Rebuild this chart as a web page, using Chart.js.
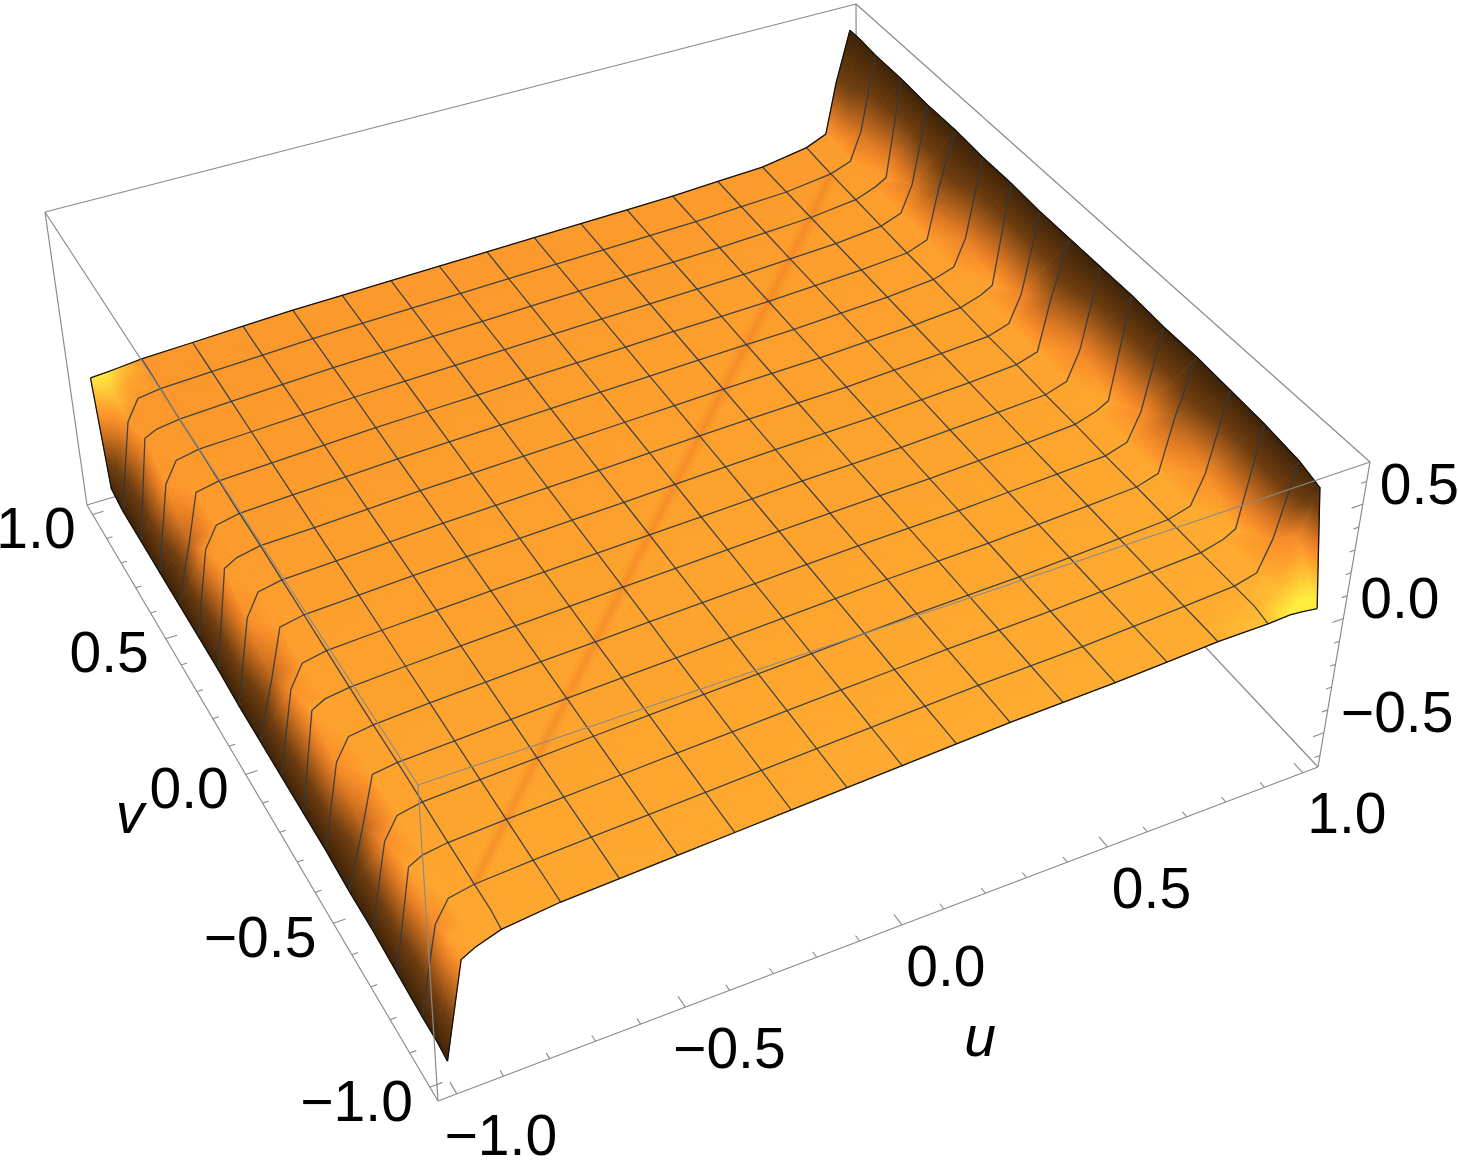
<!DOCTYPE html>
<html lang="en">
<head>
    <meta charset="UTF-8">
    <title>Surface plot</title>
    <script src="https://cdn.jsdelivr.net/npm/chart.js"></script>
    <style>
        html, body { margin: 0; padding: 0; background: #fff; }
        canvas { display: block; }
    </style>
</head>
<body>
    <canvas id="surface" width="1458" height="1164"></canvas>
    <script>
        // Sample positions of the surface
        const uValues = [-1, -0.96, -0.93, -0.875, -0.75, -0.625, -0.5, -0.375, -0.25, -0.125, 0, 0.125, 0.25, 0.375, 0.5, 0.625, 0.75, 0.875, 0.93, 0.96, 1];
        const vValues = [-1, -0.95, -0.875, -0.75, -0.625, -0.5, -0.375, -0.25, -0.125, 0, 0.125, 0.25, 0.375, 0.5, 0.625, 0.75, 0.875, 0.95, 1];

        // Heights, one row per v value
        const zRows = [
            [-0.57, -0.17, -0.14, -0.105, -0.080, -0.070, -0.060, -0.050, -0.040, -0.030, -0.020, -0.010, 0.000, 0.005, 0.010, 0.020, 0.030, 0.030, 0.035, 0.030, 0.02],
            [-0.56, -0.15, -0.11, -0.090, -0.078, -0.069, -0.059, -0.049, -0.039, -0.029, -0.019, -0.009, 0.001, 0.006, 0.011, 0.021, 0.031, 0.045, 0.075, 0.30, 0.49],
            [-0.56, -0.20, -0.11, -0.090, -0.076, -0.066, -0.056, -0.047, -0.037, -0.027, -0.018, -0.008, 0.002, 0.007, 0.012, 0.022, 0.032, 0.045, 0.07, 0.20, 0.52],
            [-0.55, -0.13, -0.10, -0.085, -0.073, -0.063, -0.053, -0.043, -0.034, -0.024, -0.015, -0.006, 0.004, 0.009, 0.014, 0.024, 0.034, 0.045, 0.07, 0.10, 0.54],
            [-0.54, -0.19, -0.10, -0.080, -0.069, -0.059, -0.049, -0.040, -0.031, -0.022, -0.013, -0.003, 0.006, 0.011, 0.016, 0.026, 0.036, 0.047, 0.075, 0.20, 0.55],
            [-0.54, -0.30, -0.09, -0.075, -0.065, -0.055, -0.045, -0.036, -0.028, -0.019, -0.010, -0.001, 0.008, 0.013, 0.018, 0.028, 0.038, 0.050, 0.08, 0.32, 0.56],
            [-0.53, -0.18, -0.09, -0.075, -0.061, -0.051, -0.041, -0.033, -0.024, -0.016, -0.008, 0.001, 0.009, 0.014, 0.019, 0.029, 0.039, 0.050, 0.08, 0.20, 0.56],
            [-0.53, -0.115, -0.085, -0.070, -0.058, -0.048, -0.038, -0.029, -0.021, -0.013, -0.005, 0.003, 0.011, 0.016, 0.021, 0.031, 0.041, 0.055, 0.085, 0.115, 0.57],
            [-0.53, -0.18, -0.085, -0.065, -0.054, -0.044, -0.034, -0.026, -0.018, -0.010, -0.003, 0.005, 0.013, 0.018, 0.023, 0.033, 0.043, 0.055, 0.085, 0.21, 0.57],
            [-0.53, -0.29, -0.08, -0.060, -0.050, -0.040, -0.030, -0.023, -0.015, -0.008, 0.000, 0.008, 0.015, 0.020, 0.025, 0.035, 0.045, 0.060, 0.09, 0.33, 0.57],
            [-0.53, -0.17, -0.075, -0.055, -0.046, -0.036, -0.026, -0.019, -0.012, -0.005, 0.003, 0.010, 0.017, 0.022, 0.027, 0.037, 0.047, 0.060, 0.09, 0.21, 0.57],
            [-0.52, -0.10, -0.07, -0.050, -0.043, -0.033, -0.023, -0.016, -0.009, -0.002, 0.005, 0.012, 0.019, 0.024, 0.029, 0.039, 0.049, 0.065, 0.095, 0.125, 0.58],
            [-0.52, -0.16, -0.07, -0.050, -0.039, -0.029, -0.019, -0.012, -0.006, 0.001, 0.008, 0.014, 0.021, 0.026, 0.031, 0.041, 0.051, 0.070, 0.10, 0.22, 0.58],
            [-0.52, -0.28, -0.065, -0.045, -0.035, -0.025, -0.015, -0.009, -0.003, 0.004, 0.010, 0.016, 0.023, 0.028, 0.033, 0.043, 0.053, 0.070, 0.105, 0.34, 0.59],
            [-0.52, -0.15, -0.06, -0.040, -0.031, -0.021, -0.011, -0.005, 0.001, 0.007, 0.013, 0.018, 0.024, 0.029, 0.034, 0.044, 0.054, 0.075, 0.11, 0.23, 0.59],
            [-0.52, -0.08, -0.055, -0.040, -0.028, -0.018, -0.008, -0.002, 0.004, 0.009, 0.015, 0.021, 0.026, 0.031, 0.036, 0.046, 0.056, 0.080, 0.115, 0.145, 0.60],
            [-0.52, -0.14, -0.05, -0.035, -0.024, -0.014, -0.004, 0.002, 0.007, 0.012, 0.018, 0.023, 0.028, 0.033, 0.038, 0.048, 0.058, 0.085, 0.12, 0.25, 0.60],
            [-0.50, -0.12, -0.07, -0.030, -0.022, -0.012, -0.002, 0.004, 0.009, 0.014, 0.019, 0.024, 0.029, 0.034, 0.039, 0.049, 0.059, 0.090, 0.13, 0.36, 0.61],
            [-0.05, -0.045, -0.04, -0.030, -0.020, -0.010, 0.000, 0.005, 0.010, 0.015, 0.020, 0.025, 0.030, 0.035, 0.040, 0.050, 0.060, 0.095, 0.135, 0.37, 0.61]
        ];

        // Axis ticks
        const uvMajorTicks = [-1, -0.5, 0, 0.5, 1];
        const uvMinorTicks = [-0.9, -0.8, -0.7, -0.6, -0.4, -0.3, -0.2, -0.1, 0.1, 0.2, 0.3, 0.4, 0.6, 0.7, 0.8, 0.9];
        const zMajorTicks = [-0.5, 0, 0.5];
        const zMinorTicks = [-0.6, -0.4, -0.3, -0.2, -0.1, 0.1, 0.2, 0.3, 0.4, 0.6];

        // Plot box
        const uvLimit = 1.04;
        const zMin = -0.65, zMax = 0.685;
        const floorCorners = [[438, 1101], [1318, 767], [857, 276], [87, 505]];
        const roofCorners = [[418, 785], [1370, 462], [856, 4], [45, 212]];

        const GREY = '#8a8a8a';
        const MESH = 'rgba(48,58,66,0.9)';

        function quadMap(q) {
            const [[x0, y0], [x1, y1], [x2, y2], [x3, y3]] = q;
            const dx1 = x1 - x2, dx2 = x3 - x2, sx = x0 - x1 + x2 - x3;
            const dy1 = y1 - y2, dy2 = y3 - y2, sy = y0 - y1 + y2 - y3;
            const den = dx1 * dy2 - dx2 * dy1;
            const g = (sx * dy2 - dx2 * sy) / den, h = (dx1 * sy - sx * dy1) / den;
            const a = x1 - x0 + g * x1, b = x3 - x0 + h * x3;
            const d = y1 - y0 + g * y1, e = y3 - y0 + h * y3;
            return (s, t) => {
                const w = g * s + h * t + 1;
                return [(a * s + b * t + x0) / w, (d * s + e * t + y0) / w];
            };
        }
        const floorMap = quadMap(floorCorners);
        const roofMap = quadMap(roofCorners);

        // (u, v, z) to a point on the chart's x/y scales
        function project(u, v, z) {
            const s = (u + uvLimit) / (2 * uvLimit), t = (v + uvLimit) / (2 * uvLimit);
            const lo = floorMap(s, t), hi = roofMap(s, t);
            const k = (z - zMin) / (zMax - zMin);
            return { x: lo[0] + (hi[0] - lo[0]) * k, y: lo[1] + (hi[1] - lo[1]) * k };
        }
        const vertex = (i, j) => project(uValues[i], vValues[j], zRows[j][i]);

        const clamp = (x, a, b) => Math.min(b, Math.max(a, x));

        // Shade ramp: dark brown on the walls, orange on the flat, yellow on the lit corners
        const ramp = [
            [0.00, [62, 35, 8]],
            [0.25, [112, 62, 16]],
            [0.55, [226, 124, 36]],
            [0.66, [250, 146, 42]],
            [0.74, [254, 164, 46]],
            [0.84, [255, 190, 52]],
            [1.00, [255, 236, 62]]
        ];
        function rampColor(I) {
            I = clamp(I, 0, 1);
            for (let n = 1; n < ramp.length; n++) {
                if (I <= ramp[n][0]) {
                    const [a, ca] = ramp[n - 1], [b, cb] = ramp[n];
                    const k = (I - a) / (b - a);
                    return `rgb(${ca.map((c, m) => Math.round(c + (cb[m] - c) * k)).join(',')})`;
                }
            }
            return 'rgb(255,236,62)';
        }

        function shade(i, j) {
            const z = zRows[j][i];
            const wall = clamp((Math.abs(z) - 0.14) / 0.38, 0, 1);
            const lastRow = vValues.length - 1;
            let rise = 0;
            // only the two far corners of the outermost strips catch the light
            if (j <= 1 && uValues[i] > 0) {
                rise = (zRows[1][i] - zRows[0][i]) / (vValues[1] - vValues[0]) * (j === 0 ? 1 : 0.3);
            }
            if (j >= lastRow - 1 && uValues[i] < 0) {
                rise = (zRows[lastRow][i] - zRows[lastRow - 1][i]) / (vValues[lastRow] - vValues[lastRow - 1]) * (j === lastRow ? 1 : 0.3);
            }
            const flat = 0.725 - 0.035 * vValues[j] + 0.012 * uValues[i];
            return (flat + 0.3 * clamp(rise, 0, 1)) * (1 - wall);
        }

        // Linear gradient reproducing the shade across one triangle
        function triangleFill(ctx, pts, vals) {
            const [a, b, c] = pts;
            const det = (b.x - a.x) * (c.y - a.y) - (c.x - a.x) * (b.y - a.y);
            const lo = Math.min(...vals), hi = Math.max(...vals);
            if (Math.abs(det) < 1e-6 || hi - lo < 1e-4) return rampColor((lo + hi) / 2);
            const gx = ((vals[1] - vals[0]) * (c.y - a.y) - (vals[2] - vals[0]) * (b.y - a.y)) / det;
            const gy = ((vals[2] - vals[0]) * (b.x - a.x) - (vals[1] - vals[0]) * (c.x - a.x)) / det;
            const g2 = gx * gx + gy * gy;
            const start = pts[vals.indexOf(lo)];
            const span = (hi - lo) / g2;
            const grad = ctx.createLinearGradient(start.x, start.y, start.x + gx * span, start.y + gy * span);
            grad.addColorStop(0, rampColor(lo));
            ramp.forEach(([I]) => {
                if (I > lo && I < hi) grad.addColorStop((I - lo) / (hi - lo), rampColor(I));
            });
            grad.addColorStop(1, rampColor(hi));
            return grad;
        }

        const layers = [];
        const addLine = (data, color, width) => layers.push({
            data, showLine: true, pointRadius: 0, borderColor: color, borderWidth: width, fill: false, tension: 0, clip: false
        });
        const edge = (a, b) => [project(...a), project(...b)];
        const L = uvLimit;

        // Box edges behind the surface
        addLine(edge([-L, L, zMax], [L, L, zMax]), GREY, 1.2);
        addLine(edge([L, L, zMax], [L, -L, zMax]), GREY, 1.2);
        addLine(edge([-L, L, zMax], [-L, L, zMin]), GREY, 1.2);
        addLine(edge([L, -L, zMax], [L, -L, zMin]), GREY, 1.2);
        addLine(edge([L, L, zMax], [L, L, zMin]), GREY, 1.2);
        addLine(edge([-L, L, zMin], [L, L, zMin]), GREY, 1.2);
        addLine(edge([L, -L, zMin], [L, L, zMin]), GREY, 1.2);

        // Surface triangles, far corner first
        function addTriangle(c1, c2, c3) {
            const cells = [c1, c2, c3];
            const pts = cells.map(([i, j]) => vertex(i, j));
            const vals = cells.map(([i, j]) => shade(i, j));
            const scripted = (c) => {
                const { x, y } = c.chart.scales;
                const px = pts.map(p => ({ x: x.getPixelForValue(p.x), y: y.getPixelForValue(p.y) }));
                if (!isFinite(px[0].x)) return rampColor(vals[0]);
                return triangleFill(c.chart.ctx, px, vals);
            };
            layers.push({
                data: [pts[0], pts[1], pts[2], pts[0]],
                showLine: true, pointRadius: 0, tension: 0, clip: false,
                fill: 'shape', backgroundColor: scripted, borderColor: scripted, borderWidth: 0.8
            });
        }
        for (let j = vValues.length - 2; j >= 0; j--) {
            for (let i = uValues.length - 2; i >= 0; i--) {
                addTriangle([i + 1, j + 1], [i, j + 1], [i + 1, j]);
                addTriangle([i, j + 1], [i, j], [i + 1, j]);
            }
        }

        // Crease along the u = v diagonal, it passes through the table's mesh nodes
        const crease = [];
        for (let k = 3; k <= 17; k++) crease.push(vertex(k, k - 1));
        addLine(crease, 'rgba(232,104,30,0.07)', 15);
        addLine(crease, 'rgba(232,104,30,0.09)', 9);
        addLine(crease, 'rgba(225,90,28,0.10)', 4);

        // Mesh lines
        for (let j = 2; j <= 16; j++) addLine(uValues.map((_, i) => vertex(i, j)), MESH, 1.3);
        for (let i = 3; i <= 17; i++) addLine(vValues.map((_, j) => vertex(i, j)), MESH, 1.3);

        // Surface outline
        const lastU = uValues.length - 1, lastV = vValues.length - 1;
        addLine(uValues.map((_, i) => vertex(i, 0)), '#111', 1.3);
        addLine(uValues.map((_, i) => vertex(i, lastV)), '#111', 1.3);
        addLine(vValues.map((_, j) => vertex(0, j)), '#111', 1.3);
        addLine(vValues.map((_, j) => vertex(lastU, j)), '#111', 1.3);

        // Box edges in front of the surface
        addLine(edge([-L, -L, zMax], [L, -L, zMax]), GREY, 1.2);
        addLine(edge([-L, -L, zMax], [-L, L, zMax]), GREY, 1.2);
        addLine(edge([-L, -L, zMax], [-L, -L, zMin]), GREY, 1.2);
        addLine(edge([-L, -L, zMin], [L, -L, zMin]), GREY, 1.2);
        addLine(edge([-L, -L, zMin], [-L, L, zMin]), GREY, 1.2);

        // Tick marks
        const tickData = [];
        const pushTick = (a, b) => tickData.push(project(...a), project(...b), { x: null, y: null });
        [[uvMajorTicks, 0.034, 0.027], [uvMinorTicks, 0.017, 0.014]].forEach(([list, dv, du]) => {
            list.forEach(t => {
                pushTick([t, -L, zMin], [t, -L + dv, zMin]);
                pushTick([-L, t, zMin], [-L + du, t, zMin]);
            });
        });
        [[zMajorTicks, 0.028], [zMinorTicks, 0.014]].forEach(([list, du]) => {
            list.forEach(t => pushTick([L, -L, t], [L - du, -L, t]));
        });
        addLine(tickData, GREY, 1.1);

        const fmt = t => (t < 0 ? '\u2212' : '') + Math.abs(t).toFixed(1);

        const tickLabels = {
            id: 'tickLabels',
            afterDraw(chart) {
                const { ctx, scales: { x, y } } = chart;
                const put = (text, p, dx, dy) => ctx.fillText(text, x.getPixelForValue(p.x) + dx, y.getPixelForValue(p.y) + dy);
                ctx.save();
                ctx.fillStyle = '#000';
                ctx.textBaseline = 'middle';
                ctx.font = '57px "Liberation Sans"';
                ctx.textAlign = 'center';
                uvMajorTicks.forEach(t => put(fmt(t), project(t, -L, zMin), 44, 45));
                ctx.textAlign = 'right';
                uvMajorTicks.forEach(t => put(fmt(t), project(-L, t, zMin), -17, 18));
                ctx.textAlign = 'left';
                zMajorTicks.forEach(t => put(fmt(t), project(L, -L, t), 17, -16));
                ctx.font = 'italic 57px "Liberation Sans"';
                ctx.textAlign = 'center';
                put('u', { x: 980, y: 1040 }, 0, 0);
                put('v', { x: 130, y: 817 }, 0, 0);
                ctx.restore();
            }
        };

        // Chart.js paints the first dataset last
        new Chart(document.getElementById('surface').getContext('2d'), {
            type: 'scatter',
            data: { datasets: layers.reverse() },
            options: {
                responsive: false,
                animation: false,
                events: [],
                layout: { padding: 0 },
                scales: {
                    x: { type: 'linear', min: 0, max: 1458, display: false },
                    y: { type: 'linear', min: 0, max: 1164, reverse: true, display: false }
                },
                plugins: {
                    legend: { display: false },
                    tooltip: { enabled: false },
                    filler: { drawTime: 'beforeDatasetDraw' }
                }
            },
            plugins: [tickLabels]
        });
    </script>
</body>
</html>
